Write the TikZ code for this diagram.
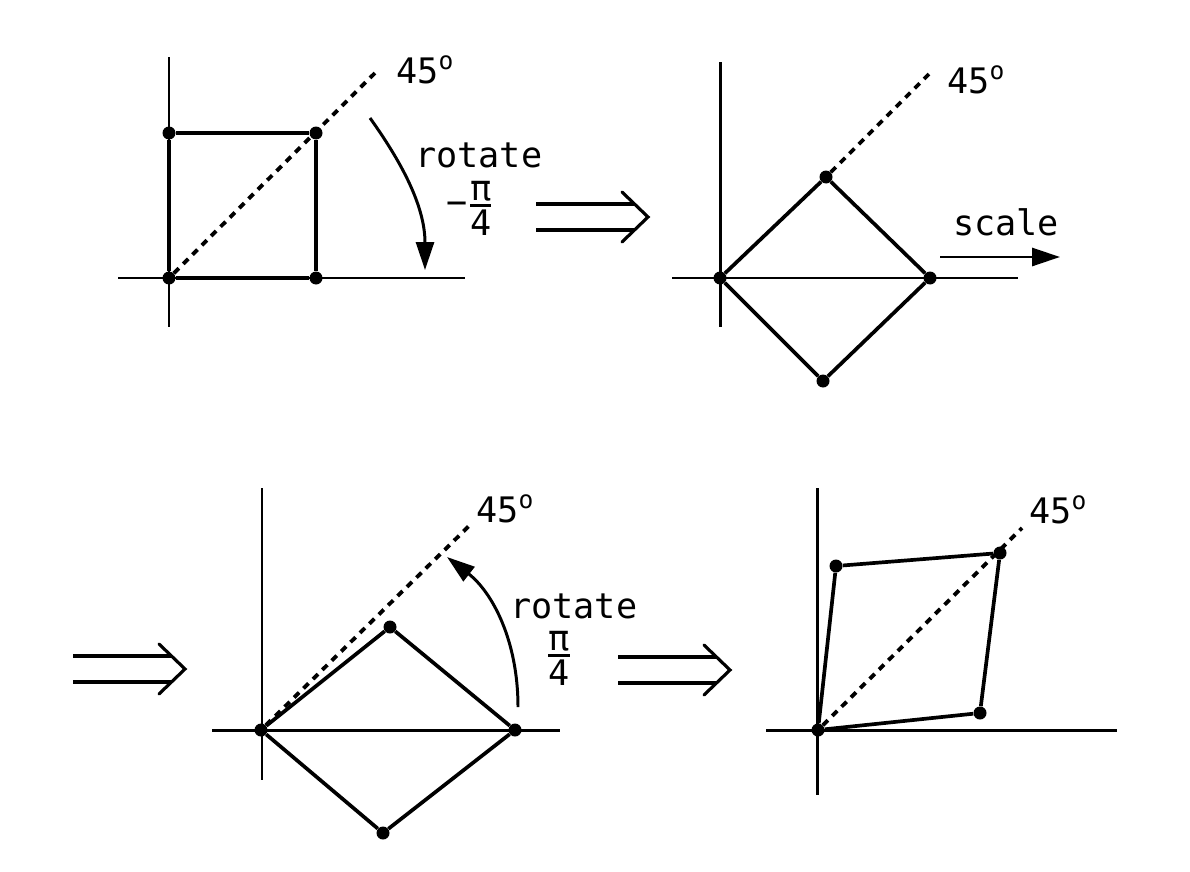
\documentclass[tikz,border=0pt]{standalone}
\usepackage{amsmath}
\usepackage{fontspec}
\newfontfamily\plotfont{DejaVu Sans Mono}
\usetikzlibrary{arrows.meta}

\tikzset{
	axis/.style={line width=1.7pt},
	side/.style={line width=2.1pt, line join=round},
	diag/.style={line width=2.2pt, dash pattern=on 4pt off 3.5pt},
	vertex/.style={circle, fill, inner sep=0pt, minimum size=0.26cm},
	lbl/.style={font=\plotfont\fontsize{20}{24}\selectfont, inner sep=0pt},
	turn/.style={line width=1.7pt, -{Triangle[length=0.56cm,width=0.36cm]}},
	pics/implies/.style={code={
		\draw[line width=1.8pt] (0,-13) -- (98,-13) (0,13) -- (98,13);
		\draw[line width=1.8pt, line cap=round] (86,-25) -- (112,0) -- (86,25);
	}}
}

\begin{document}
\begin{tikzpicture}[x=0.02cm, y=-0.02cm]
	\useasboundingbox (0,0) rectangle (1190,872);
	% square
	\draw[axis] (169,57) -- (169,327) (118,278) -- (465,278);
	\node[vertex] (o_1) at (169,278) {};
	\node[vertex] (a_1) at (316,278) {};
	\node[vertex] (b_1) at (316,133) {};
	\node[vertex] (c_1) at (169,133) {};
	\coordinate (d_1) at (377,71);
	\draw[side] (o_1) -- (a_1) -- (b_1) -- (c_1) -- (o_1);
	\draw[diag] (o_1) -- (d_1);
	\node[lbl, anchor=base west] (deg_1) at (396,83) {45\textsuperscript{o}};
	\coordinate (s_1) at (370,118);
	\coordinate (e_1) at (425,270);
	\draw[turn] (s_1) .. controls (400,160) and (425,205) .. (e_1);
	\node[lbl, anchor=base west] (rot_1) at (415,167) {rotate};
	\node[lbl] (ang_1) at (470,208) {$\mbox{−}\genfrac{}{}{1.6pt}{1}{\mbox{π}}{\mbox{4}}$};
	\pic at (536,217) {implies};
	% rotated square
	\draw[axis] (720,62) -- (720,327) (672,278) -- (1018,278);
	\node[vertex] (o_2) at (720,278) {};
	\node[vertex] (t_2) at (826,177) {};
	\node[vertex] (r_2) at (930,278) {};
	\node[vertex] (b_2) at (823,381) {};
	\coordinate (d_2) at (930,73);
	\draw[side] (o_2) -- (t_2) -- (r_2) -- (b_2) -- (o_2);
	\draw[diag] (t_2) -- (d_2);
	\node[lbl, anchor=base west] (deg_2) at (947,93) {45\textsuperscript{o}};
	\node[lbl, anchor=base west] (sca_2) at (953,235) {scale};
	\coordinate (s_2) at (940,257);
	\coordinate (e_2) at (1060,257);
	\draw[turn] (s_2) -- (e_2);
	% scaled
	\pic at (73,669) {implies};
	\draw[axis] (262,488) -- (262,780) (212,730) -- (560,730);
	\node[vertex] (o_3) at (261,730) {};
	\node[vertex] (t_3) at (390,627) {};
	\node[vertex] (r_3) at (515,730) {};
	\node[vertex] (b_3) at (383,833) {};
	\coordinate (d_3) at (470,525);
	\draw[diag] (o_3) -- (d_3);
	\draw[side] (o_3) -- (t_3) -- (r_3) -- (b_3) -- (o_3);
	\node[lbl, anchor=base west] (deg_3) at (476,522) {45\textsuperscript{o}};
	\coordinate (s_3) at (518,707);
	\coordinate (e_3) at (447,557);
	\draw[turn] (s_3) .. controls (518,640) and (492,592) .. (e_3);
	\node[lbl, anchor=base west] (rot_3) at (510,618) {rotate};
	\node[lbl] (ang_3) at (559,658) {$\genfrac{}{}{1.6pt}{1}{\mbox{π}}{\mbox{4}}$};
	\pic at (618,670) {implies};
	% rotated back
	\draw[axis] (817,488) -- (817,795) (766,730) -- (1117,730);
	\node[vertex] (o_4) at (818,730) {};
	\node[vertex] (p_4) at (836,566) {};
	\node[vertex] (q_4) at (1000,553) {};
	\node[vertex] (s_4) at (980,713) {};
	\coordinate (d_4) at (1022,528);
	\draw[side] (o_4) -- (p_4) -- (q_4) -- (s_4) -- (o_4);
	\draw[diag] (o_4) -- (d_4);
	\node[lbl, anchor=base west] (deg_4) at (1029,523) {45\textsuperscript{o}};
\end{tikzpicture}
\end{document}
